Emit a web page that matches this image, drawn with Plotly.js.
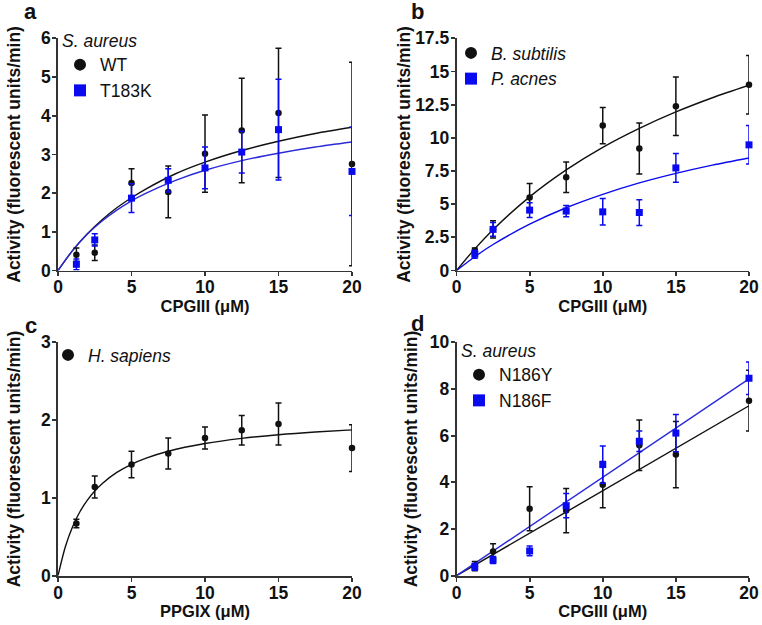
<!DOCTYPE html>
<html>
<head>
<meta charset="utf-8">
<script src="https://cdn.plot.ly/plotly-3.0.1.min.js"></script>
<style>html,body{margin:0;padding:0;background:#fff}#chart{width:762px;height:625px}</style>
</head>
<body>
<div id="chart"></div>
<script>
// ---- shared concentrations ----
const conc = [1.25, 2.5, 5, 7.5, 10, 12.5, 15, 20];

// ---- panel a: S. aureus WT / T183K (CPGIII) ----
const aWT = [0.41, 0.46, 2.26, 2.03, 3.02, 3.62, 4.07, 2.75];
const aWTerr = [0.17, 0.2, 0.37, 0.67, 1.0, 1.35, 1.67, 2.63];
const aT183K = [0.16, 0.79, 1.87, 2.33, 2.65, 3.06, 3.64, 2.56];
const aT183Kerr = [0.14, 0.16, 0.37, 0.3, 0.54, 0.54, 1.3, 1.14];
const aFitX = [0, 1, 2, 3, 4, 5, 6, 8, 10, 12.5, 15, 17.5, 20];
const aWTfit = [0, 0.52, 0.95, 1.31, 1.62, 1.88, 2.11, 2.50, 2.80, 3.10, 3.34, 3.54, 3.70];
const aT183Kfit = [0, 0.52, 0.94, 1.28, 1.56, 1.80, 2.00, 2.33, 2.59, 2.84, 3.03, 3.19, 3.32];

// ---- panel b: B. subtilis / P. acnes (CPGIII) ----
const bBsub = [1.5, 3.1, 5.5, 7.03, 10.92, 9.19, 12.38, 14.0];
const bBsubErr = [0.2, 0.65, 1.05, 1.15, 1.37, 1.92, 2.21, 2.2];
const bPacn = [1.23, 3.1, 4.55, 4.48, 4.42, 4.37, 7.73, 9.47];
const bPacnErr = [0.3, 0.52, 0.55, 0.42, 1.0, 0.97, 1.08, 1.45];
const bFitX = [0, 1.25, 2.5, 5, 7.5, 10, 12.5, 15, 17.5, 20];
const bBsubFit = [0, 1.63, 3.08, 5.55, 7.58, 9.28, 10.71, 11.95, 13.02, 13.96];
const bPacnFit = [0, 1.04, 1.96, 3.49, 4.73, 5.74, 6.6, 7.32, 7.94, 8.48];

// ---- panel c: H. sapiens (PPGIX) ----
const cHs = [0.67, 1.14, 1.43, 1.57, 1.77, 1.87, 1.95, 1.64];
const cHsErr = [0.055, 0.14, 0.17, 0.2, 0.14, 0.19, 0.27, 0.3];
const cFitX = [0, 0.5, 1, 1.5, 2, 2.5, 3, 4, 5, 6, 7.5, 10, 12.5, 15, 17.5, 20];
const cHsFit = [0, 0.373, 0.633, 0.825, 0.972, 1.089, 1.183, 1.327, 1.432, 1.511, 1.6, 1.699, 1.765, 1.812, 1.847, 1.874];

// ---- panel d: S. aureus N186Y / N186F (CPGIII) ----
const dN186Y = [0.41, 1.04, 2.87, 2.79, 3.9, 5.59, 5.19, 7.5];
const dN186Yerr = [0.2, 0.33, 0.94, 0.95, 0.99, 1.08, 1.42, 1.3];
const dN186F = [0.38, 0.67, 1.06, 3.0, 4.76, 5.76, 6.11, 8.46];
const dN186Ferr = [0.15, 0.15, 0.21, 0.52, 0.8, 0.44, 0.8, 0.7];
const dFitX = [0, 20];
const dN186Yfit = [0, 7.28];
const dN186Ffit = [0, 8.43];

// ---- tick labels ----
const xTicks = [0, 5, 10, 15, 20];
const aYTicks = [0, 1, 2, 3, 4, 5, 6];
const bYTicks = [0, 2.5, 5, 7.5, 10, 12.5, 15, 17.5];
const cYTicks = [0, 1, 2, 3];
const dYTicks = [0, 2, 4, 6, 8, 10];

const BLACK = '#111111';
const BLUE = '#0a0af0';
const BLUELINE = '#2a2ad8';
const FONT = 'Liberation Sans, Arial, Helvetica, sans-serif';

function pts(x, y, err, color, symbol, name, xa, ya, legend) {
  return {
    x: x, y: y, type: 'scatter', mode: 'markers', name: name,
    xaxis: xa, yaxis: ya, legend: legend, cliponaxis: false,
    marker: {color: color, size: symbol === 'square' ? 7 : 6.5, symbol: symbol},
    error_y: {type: 'data', array: err, visible: true, color: color, thickness: 1.5, width: 3}
  };
}
function fit(x, y, color, xa, ya) {
  return {
    x: x, y: y, type: 'scatter', mode: 'lines', showlegend: false, hoverinfo: 'skip',
    xaxis: xa, yaxis: ya, cliponaxis: false,
    line: {color: color, width: 1.4, shape: 'spline', smoothing: 0.8}
  };
}

const data = [
  fit(aFitX, aWTfit, BLACK, 'x', 'y'),
  fit(aFitX, aT183Kfit, BLUELINE, 'x', 'y'),
  pts(conc, aWT, aWTerr, BLACK, 'circle', 'WT', 'x', 'y', 'legend'),
  pts(conc, aT183K, aT183Kerr, BLUE, 'square', 'T183K', 'x', 'y', 'legend'),

  fit(bFitX, bBsubFit, BLACK, 'x2', 'y2'),
  fit(bFitX, bPacnFit, BLUE, 'x2', 'y2'),
  pts(conc, bBsub, bBsubErr, BLACK, 'circle', '<i>B. subtilis</i>', 'x2', 'y2', 'legend2'),
  pts(conc, bPacn, bPacnErr, BLUE, 'square', '<i>P. acnes</i>', 'x2', 'y2', 'legend2'),

  fit(cFitX, cHsFit, BLACK, 'x3', 'y3'),
  pts(conc, cHs, cHsErr, BLACK, 'circle', '<i>H. sapiens</i>', 'x3', 'y3', 'legend3'),

  fit(dFitX, dN186Yfit, BLACK, 'x4', 'y4'),
  fit(dFitX, dN186Ffit, BLUELINE, 'x4', 'y4'),
  pts(conc, dN186Y, dN186Yerr, BLACK, 'circle', 'N186Y', 'x4', 'y4', 'legend4'),
  pts(conc, dN186F, dN186Ferr, BLUE, 'square', 'N186F', 'x4', 'y4', 'legend4')
];

const W = 762, H = 625;
const leftDom = [58 / W, 352 / W];
const rightDom = [456.5 / W, 749 / W];
const topDom = [1 - 270.5 / H, 1 - 38.3 / H];
const botDom = [1 - 575.7 / H, 1 - 342.3 / H];

function xaxis(dom, anchor, title) {
  return {
    domain: dom, anchor: anchor, range: [0, 20], tickvals: xTicks, ticktext: xTicks.map(String),
    showgrid: false, zeroline: false, showline: true, linecolor: '#333', linewidth: 1.8,
    ticks: 'outside', ticklen: 4, tickwidth: 1.8, tickcolor: '#333', ticklabelstandoff: -4,
    tickfont: {family: FONT, size: 17.5, color: '#111', weight: 'bold'},
    title: {text: title, standoff: 3, font: {family: FONT, size: 16.5, color: '#111', weight: 'bold'}},
    automargin: false, fixedrange: true
  };
}
function yaxis(dom, anchor, range, ticks, standoff) {
  return {
    domain: dom, anchor: anchor, range: range, tickvals: ticks, ticktext: ticks.map(String),
    showgrid: false, zeroline: false, showline: true, linecolor: '#333', linewidth: 1.8,
    ticks: 'outside', ticklen: 4, tickwidth: 1.8, tickcolor: '#333', ticklabelstandoff: -2,
    tickfont: {family: FONT, size: 17.5, color: '#111', weight: 'bold'},
    title: {text: 'Activity (fluorescent units/min)', standoff: standoff,
            font: {family: FONT, size: 17.5, color: '#111', weight: 'bold'}},
    automargin: false, fixedrange: true
  };
}
function legendAt(x, y, title) {
  const l = {
    x: x / W, y: 1 - y / H, xanchor: 'left', yanchor: 'top', bgcolor: 'rgba(0,0,0,0)',
    font: {family: FONT, size: 17.5, color: '#111'}, itemsizing: 'constant', tracegroupgap: 0,
    borderwidth: 0, itemclick: false, itemdoubleclick: false
  };
  if (title) l.title = {text: title, font: {family: FONT, size: 17.5, color: '#111'}};
  return l;
}
function letter(t, x, y) {
  return {text: t, xref: 'paper', yref: 'paper', x: x / W, y: 1 - y / H, xanchor: 'center', yanchor: 'middle',
          showarrow: false, font: {family: FONT, size: 22, color: '#111', weight: 'bold'}};
}

const layout = {
  width: W, height: H, margin: {l: 0, r: 0, t: 0, b: 0},
  paper_bgcolor: '#fff', plot_bgcolor: '#fff', showlegend: true, hovermode: false,
  xaxis: xaxis(leftDom, 'y', 'CPGIII (μM)'),
  yaxis: yaxis(topDom, 'x', [0, 6], aYTicks, 16),
  xaxis2: xaxis(rightDom, 'y2', 'CPGIII (μM)'),
  yaxis2: yaxis(topDom, 'x2', [0, 17.5], bYTicks, 0),
  xaxis3: xaxis(leftDom, 'y3', 'PPGIX (μM)'),
  yaxis3: yaxis(botDom, 'x3', [0, 3], cYTicks, 16),
  xaxis4: xaxis(rightDom, 'y4', 'CPGIII (μM)'),
  yaxis4: yaxis(botDom, 'x4', [0, 10], dYTicks, 8),
  legend: legendAt(60, 24, '<i>S. aureus</i>'),
  legend2: legendAt(451, 35, null),
  legend3: legendAt(48, 337, null),
  legend4: legendAt(459, 334, '<i>S. aureus</i>'),
  annotations: [letter('a', 30, 12), letter('b', 418, 12), letter('c', 31, 325), letter('d', 418, 323)]
};

Plotly.newPlot('chart', data, layout, {displayModeBar: false, staticPlot: true});
</script>
</body>
</html>
